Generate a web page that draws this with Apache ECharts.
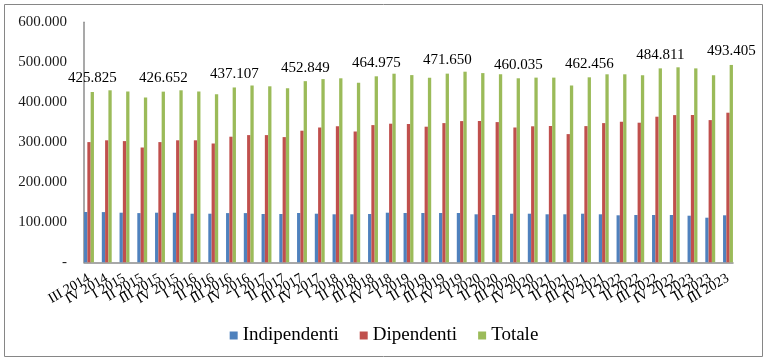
<!DOCTYPE html>
<html><head><meta charset="utf-8">
<script src="https://cdn.jsdelivr.net/npm/echarts@6/dist/echarts.min.js"></script>
<style>html,body{margin:0;padding:0;background:#fff}#c{width:768px;height:363px}</style>
</head><body><div id="c"></div>
<script>
const categories = ["III 2014","IV 2014","I 2015","II 2015","III 2015","IV 2015","I 2016","II 2016","III 2016","IV 2016","I 2017","II 2017","III 2017","IV 2017","I 2018","II 2018","III 2018","IV 2018","I 2019","II 2019","III 2019","IV 2019","I 2020","II 2020","III 2020","IV 2020","I 2021","II 2021","III 2021","IV 2021","I 2022","II 2022","III 2022","IV 2022","I 2023","II 2023","III 2023"];
const indipendenti = [125800,125500,124000,123000,124000,124000,121500,121500,123000,123000,120800,120800,123300,121500,120000,120000,120800,124000,123300,123300,123300,123300,120000,118300,121500,121500,120000,120000,121500,120000,117500,118300,118300,118300,116500,111500,117500];
const dipendenti = [300500,305000,303000,287000,300500,305000,305000,297000,314000,318000,318000,313000,329000,337000,340000,327000,343000,346500,345500,339000,348000,353000,353000,350500,337000,340000,340500,320500,340500,348000,351500,349000,364000,368000,368000,355500,374000];
const totale = [425825,430000,427000,412000,426652,430000,427000,420000,437107,442000,440000,435000,452849,458000,460000,449000,464975,471500,468000,461500,471650,476500,473000,470000,460035,461700,461700,441700,462456,470000,470000,467500,484811,487500,484800,467500,493405];
const yTicks = [0,100000,200000,300000,400000,500000,600000];
const labelStep = 4;

const fmt = n => n === 0 ? '-' : String(Math.round(n)).replace(/\B(?=(\d{3})+(?!\d))/g, '.');
const FONT = '"Liberation Serif", "Times New Roman", serif';
const chart = echarts.init(document.getElementById('c'), null, {renderer: 'canvas'});
const gridTop = 22.3, gridBottom = 100.7;
const barW = 3.3;

chart.setOption({
  animation: false,
  backgroundColor: '#fff',
  color: ['#4F81BD', '#C0504D', '#9BBB59'],
  graphic: [{type: 'rect', shape: {x: 4.5, y: 4.5, width: 758, height: 352}, style: {fill: 'none', stroke: '#868686', lineWidth: 1}, z: 100}],
  legend: {
    data: ['Indipendenti', 'Dipendenti', 'Totale'],
    left: 'center', top: 321,
    icon: 'rect', itemWidth: 8, itemHeight: 8, itemGap: 21,
    textStyle: {fontFamily: FONT, fontSize: 19, color: '#000'}
  },
  grid: [
    {left: 89, right: 40, top: gridTop, bottom: gridBottom},
    {left: 84, right: 35, top: gridTop, bottom: gridBottom}
  ],
  xAxis: [
    {type: 'category', gridIndex: 0, data: categories, boundaryGap: false,
      axisLine: {show: false}, axisTick: {show: false}, splitLine: {show: false},
      axisLabel: {interval: 0, rotate: 30, margin: 15, fontFamily: FONT, fontSize: 14, color: '#000'}},
    {type: 'category', gridIndex: 1, data: [''], axisTick: {show: false}, axisLabel: {show: false},
      axisLine: {show: true, lineStyle: {color: '#8c8c8c', width: 1.5}}}
  ],
  yAxis: [
    {type: 'value', gridIndex: 0, min: 0, max: 600000, interval: 100000, show: false, splitLine: {show: false}},
    {type: 'value', gridIndex: 1, min: 0, max: 600000, interval: 100000,
      axisLine: {show: true, lineStyle: {color: '#8c8c8c', width: 1.5}}, axisTick: {show: false}, splitLine: {show: false},
      axisLabel: {margin: 17, fontFamily: FONT, fontSize: 15, color: '#1a1a1a', formatter: v => fmt(v)}}
  ],
  series: [
    {name: 'Indipendenti', type: 'bar', xAxisIndex: 0, yAxisIndex: 0, barWidth: barW, barGap: '0%', data: indipendenti},
    {name: 'Dipendenti', type: 'bar', xAxisIndex: 0, yAxisIndex: 0, barWidth: barW, barGap: '0%', data: dipendenti},
    {name: 'Totale', type: 'bar', xAxisIndex: 0, yAxisIndex: 0, barWidth: barW, barGap: '0%',
      data: totale.map((v, i) => ({value: v, label: {show: i % labelStep === 0}})),
      label: {position: 'top', distance: 6, fontFamily: FONT, fontSize: 15, color: '#000', formatter: p => fmt(p.value)}}
  ]
});
</script></body></html>
